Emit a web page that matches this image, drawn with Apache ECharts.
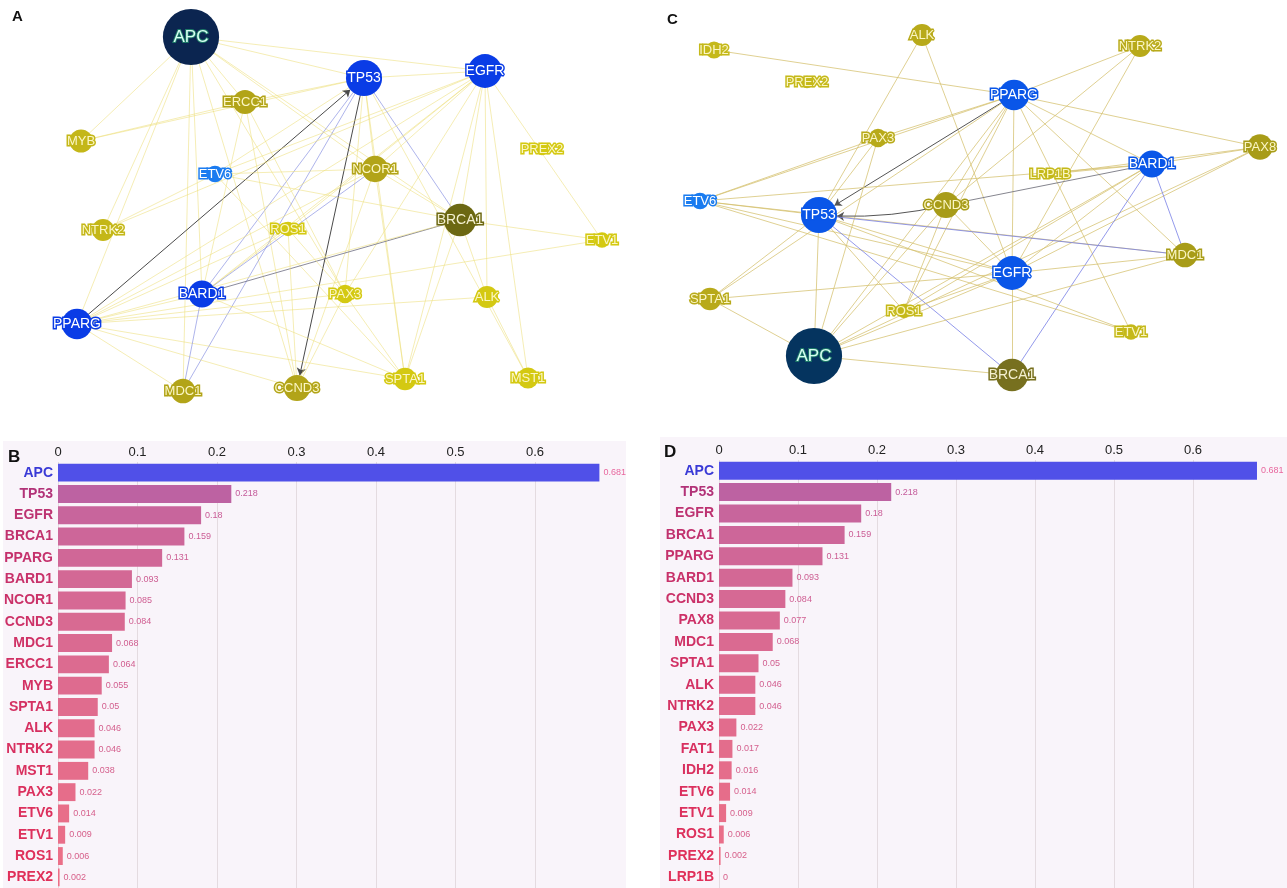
<!DOCTYPE html>
<html>
<head>
<meta charset="utf-8">
<script src="https://cdn.jsdelivr.net/npm/echarts@6/dist/echarts.min.js"></script>
<style>
  html, body { margin: 0; padding: 0; background: #ffffff; }
  #chart { width: 1287px; height: 888px; }
</style>
</head>
<body>
<div id="chart"></div>
<script>
// ---- Betweenness centrality rankings ----
const genesB = ['APC','TP53','EGFR','BRCA1','PPARG','BARD1','NCOR1','CCND3','MDC1','ERCC1',
                'MYB','SPTA1','ALK','NTRK2','MST1','PAX3','ETV6','ETV1','ROS1','PREX2'];
const scoresB = [0.681,0.218,0.18,0.159,0.131,0.093,0.085,0.084,0.068,0.064,
                 0.055,0.05,0.046,0.046,0.038,0.022,0.014,0.009,0.006,0.002];

const genesD = ['APC','TP53','EGFR','BRCA1','PPARG','BARD1','CCND3','PAX8','MDC1','SPTA1',
                'ALK','NTRK2','PAX3','FAT1','IDH2','ETV6','ETV1','ROS1','PREX2','LRP1B'];
const scoresD = [0.681,0.218,0.18,0.159,0.131,0.093,0.084,0.077,0.068,0.05,
                 0.046,0.046,0.022,0.017,0.016,0.014,0.009,0.006,0.002,0];

const axisTicks = [0, 0.1, 0.2, 0.3, 0.4, 0.5, 0.6];

// ---- Network A: nodes (name, colour group) ----
const nodesA = [
  ['APC','hub'],['TP53','blue'],['EGFR','blue'],['ERCC1','olive'],['MYB','khaki'],
  ['ETV6','sky'],['NCOR1','olive'],['PREX2','yellow'],['NTRK2','khaki'],['ROS1','yellow'],
  ['BRCA1','dark'],['ETV1','yellow'],['BARD1','blue'],['PAX3','yellow'],['ALK','yellow'],
  ['PPARG','blue'],['MDC1','olive'],['CCND3','olive'],['SPTA1','yellow'],['MST1','yellow']
];
// node placement inside panel A
const layoutA = {
  APC:[191,37], TP53:[364,78], EGFR:[485,71], ERCC1:[245,102], MYB:[81,141],
  ETV6:[215,174], NCOR1:[375,169], PREX2:[542,149], NTRK2:[103,230], ROS1:[288,229],
  BRCA1:[460,220], ETV1:[602,240], BARD1:[202,294], PAX3:[345,294], ALK:[487,297],
  PPARG:[77,324], MDC1:[183,391], CCND3:[297,388], SPTA1:[405,379], MST1:[528,378]
};
// interactions (source, target, kind)
const linksA = [
  ['APC','MYB'],['APC','NTRK2'],['APC','PPARG'],['APC','MDC1'],['APC','BARD1'],['APC','ERCC1'],
  ['APC','TP53'],['APC','EGFR'],['APC','NCOR1'],['APC','CCND3'],['APC','PAX3'],['APC','BRCA1'],
  ['TP53','EGFR'],['TP53','ERCC1'],['TP53','MYB'],['TP53','ETV6'],['TP53','NCOR1'],
  ['TP53','BRCA1','blue'],['TP53','BARD1','blue'],['PPARG','TP53','arrow'],['TP53','CCND3','arrow'],
  ['TP53','PAX3'],['TP53','MDC1','blue'],['TP53','SPTA1'],['TP53','MST1'],
  ['EGFR','ETV6'],['EGFR','NCOR1'],['EGFR','BRCA1'],['EGFR','ALK'],['EGFR','MST1'],['EGFR','ETV1'],
  ['EGFR','PPARG'],['EGFR','BARD1'],['EGFR','ROS1'],['EGFR','SPTA1'],['EGFR','PAX3'],['EGFR','NTRK2'],
  ['ERCC1','MYB'],['ERCC1','CCND3'],['ERCC1','PAX3'],['ERCC1','BARD1'],
  ['ETV6','NCOR1'],['ETV6','BRCA1'],['ETV6','SPTA1'],['ETV6','NTRK2'],
  ['NCOR1','BARD1','blue'],['NCOR1','PPARG'],['NCOR1','BRCA1'],['NCOR1','SPTA1'],['NCOR1','CCND3'],
  ['BRCA1','BARD1','grey'],['BRCA1','ETV1'],['BRCA1','ALK'],['BRCA1','SPTA1'],['BRCA1','PPARG'],
  ['PPARG','BARD1'],['PPARG','ROS1'],['PPARG','PAX3'],['PPARG','ETV1'],['PPARG','MDC1'],
  ['PPARG','CCND3'],['PPARG','SPTA1'],['PPARG','ALK'],
  ['BARD1','MDC1','blue'],['BARD1','ROS1'],['BARD1','SPTA1'],
  ['PAX3','CCND3'],['PAX3','SPTA1'],['ROS1','CCND3'],['ALK','MST1'],['ROS1','PAX3']
];

// ---- Network C ----
const nodesC = [
  ['ALK','khaki'],['IDH2','yellow'],['NTRK2','khaki'],['PREX2','yellow'],['PPARG','blue'],
  ['PAX3','khaki'],['PAX8','olive'],['BARD1','blue'],['LRP1B','yellow'],['ETV6','sky'],
  ['CCND3','olive'],['TP53','blue'],['MDC1','olive'],['EGFR','blue'],['SPTA1','khaki'],
  ['ROS1','yellow'],['ETV1','yellow'],['APC','hub'],['BRCA1','dark']
];
const layoutC = {
  ALK:[922,35], IDH2:[714,50], NTRK2:[1140,46], PREX2:[807,82], PPARG:[1014,95],
  PAX3:[878,138], PAX8:[1260,147], BARD1:[1152,164], LRP1B:[1050,174], ETV6:[700,201],
  CCND3:[946,205], TP53:[819,215], MDC1:[1185,255], EGFR:[1012,273], SPTA1:[710,299],
  ROS1:[904,311], ETV1:[1131,332], APC:[814,356], BRCA1:[1012,375]
};
const linksC = [
  ['IDH2','PPARG'],['ALK','TP53'],['ALK','EGFR'],['NTRK2','PPARG'],['NTRK2','CCND3'],['NTRK2','EGFR'],
  ['PPARG','PAX3'],['PPARG','ETV6'],['PPARG','TP53','arrow'],['PPARG','EGFR'],['PPARG','PAX8'],
  ['PPARG','MDC1'],['PPARG','ETV1'],['PPARG','APC'],['PPARG','ROS1'],['PPARG','SPTA1'],
  ['PPARG','BARD1'],['PPARG','CCND3'],
  ['PAX3','ETV6'],['PAX3','TP53'],['PAX3','APC'],
  ['PAX8','BARD1'],['PAX8','LRP1B'],['PAX8','EGFR'],['PAX8','APC'],
  ['BARD1','LRP1B'],['BARD1','CCND3','grey'],['BARD1','MDC1','blue'],['BARD1','BRCA1','blue'],
  ['BARD1','EGFR'],['BARD1','APC'],['BARD1','ETV6'],['BARD1','ROS1'],
  ['ETV6','TP53'],['ETV6','EGFR'],['ETV6','MDC1'],['ETV6','ETV1'],
  ['CCND3','TP53','arrow'],['CCND3','APC'],['CCND3','ROS1'],['CCND3','EGFR'],
  ['TP53','MDC1','blue'],['TP53','BRCA1','blue'],['TP53','EGFR'],['TP53','SPTA1'],['TP53','APC'],
  ['TP53','ETV1'],['TP53','ROS1'],
  ['MDC1','EGFR'],['MDC1','APC'],
  ['EGFR','SPTA1'],['EGFR','BRCA1'],['EGFR','APC'],['EGFR','ROS1'],
  ['SPTA1','APC'],['APC','BRCA1']
];

// ---- styling ----
const FONT = 'Liberation Sans, Arial, sans-serif';

const paletteA = {
  hub:'#0b2550', blue:'#0a3ce6', sky:'#1c7cf0', dark:'#6c6812',
  olive:'#b2a418', khaki:'#c4b718', yellow:'#d4c912'
};
const paletteC = {
  hub:'#05345f', blue:'#0a56e8', sky:'#1a7cf0', dark:'#77701f',
  olive:'#a89c18', khaki:'#b8aa1a', yellow:'#c5b91a'
};
const edgeStyles = {
  plain: { A:'rgba(236,222,120,0.55)', C:'rgba(212,192,110,0.75)' },
  blue:  { A:'rgba(130,140,225,0.65)', C:'rgba(120,128,230,0.8)' },
  grey:  { A:'rgba(110,110,130,0.8)',  C:'rgba(120,120,130,0.9)' },
  arrow: { A:'#4a4a4a', C:'#555555' }
};

function sizeFor(v) { return 10 + 56 * Math.sqrt(v); }

function buildGraph(nodes, layout, links, genes, scores, palette, key) {
  const xs = Object.values(layout).map(p => p[0]);
  const ys = Object.values(layout).map(p => p[1]);
  const minX = Math.min(...xs), maxX = Math.max(...xs);
  const minY = Math.min(...ys), maxY = Math.max(...ys);
  const data = nodes.map(([name, group]) => {
    const v = scores[genes.indexOf(name)];
    const s = sizeFor(v);
    const col = palette[group];
    const light = (group === 'hub' || group === 'blue' || group === 'sky');
    return {
      name, x: layout[name][0], y: layout[name][1],
      symbolSize: s,
      itemStyle: { color: col },
      label: {
        show: true, position: 'inside',
        fontFamily: FONT,
        fontSize: group === 'hub' ? 17 : (group === 'blue' || group === 'dark' ? 14 : 13),
        color: group === 'hub' ? '#d8fff2' : (light ? '#ffffff' : (group === 'dark' ? '#f4f0d0' : '#fbf6c4')),
        textBorderColor: group === 'hub' ? '#1d7a68' : col,
        textBorderWidth: group === 'hub' ? 2 : 3
      }
    };
  });
  const edges = links.map(([s, t, kind]) => {
    const k = kind || 'plain';
    const e = {
      source: s, target: t,
      lineStyle: { color: edgeStyles[k][key], width: 1, curveness: 0 }
    };
    if (k === 'arrow') {
      e.symbol = ['none', 'arrow'];
      e.symbolSize = [0, 7];
      if (s === 'CCND3') e.lineStyle.curveness = 0.08;
    }
    return e;
  });
  return {
    type: 'graph', layout: 'none', roam: false, silent: true,
    left: minX, top: minY, width: maxX - minX, height: maxY - minY,
    edgeSymbol: ['none', 'none'],
    data, links: edges,
    lineStyle: { opacity: 1 },
    emphasis: { disabled: true }
  };
}

function mix(a, b, t) {
  const pa = [1,3,5].map(i => parseInt(a.substr(i,2),16));
  const pb = [1,3,5].map(i => parseInt(b.substr(i,2),16));
  return 'rgb(' + pa.map((v,i) => Math.round(v + (pb[i]-v)*t)).join(',') + ')';
}
function rankT(i, n) { return Math.sqrt((i - 1) / (n - 2)); }
function barColor(i, n) { return i === 0 ? '#5050e8' : mix('#bd62a2', '#ec6f87', rankT(i, n)); }
function nameColor(i, n) { return i === 0 ? '#3a3ad6' : mix('#b23278', '#e0305a', rankT(i, n)); }
function valColor(i, n) { return i === 0 ? '#e8679e' : mix('#c45a9a', '#d8608a', rankT(i, n)); }

function buildBars(genes, scores, gridIndex) {
  const n = genes.length;
  return {
    type: 'bar', xAxisIndex: gridIndex, yAxisIndex: gridIndex,
    barCategoryGap: '16%', silent: true,
    data: scores.map((v, i) => ({
      value: v,
      itemStyle: { color: barColor(i, n) },
      label: { color: valColor(i, n) }
    })),
    label: {
      show: true, position: 'right', distance: 4,
      fontFamily: FONT, fontSize: 9,
      formatter: p => String(p.value)
    }
  };
}

function valueAxis(gridIndex) {
  return {
    type: 'value', gridIndex, position: 'top', min: 0, max: 0.7, interval: 0.1,
    axisLine: { show: false }, axisTick: { show: false },
    axisLabel: {
      margin: 3, fontFamily: FONT, fontSize: 13, color: '#222',
      showMaxLabel: false,
      formatter: v => axisTicks.indexOf(Math.round(v * 10) / 10) >= 0 ? String(Math.round(v * 10) / 10) : ''
    },
    splitLine: { show: true, showMaxLine: false, lineStyle: { color: '#e4dbe0', width: 1 } }
  };
}
function categoryAxis(gridIndex, genes) {
  const n = genes.length;
  return {
    type: 'category', gridIndex, data: genes, inverse: true,
    axisLine: { show: false }, axisTick: { show: false },
    axisLabel: {
      margin: 5, fontFamily: FONT, fontSize: 14, fontWeight: 'bold',
      color: (val, idx) => nameColor(idx, n)
    }
  };
}

const chart = echarts.init(document.getElementById('chart'), null, { renderer: 'canvas' });
chart.setOption({
  backgroundColor: '#ffffff',
  animation: false,
  graphic: [
    { type: 'rect', z: -10, shape: { x: 3, y: 441, width: 623, height: 447 }, style: { fill: '#f9f4fa' } },
    { type: 'rect', z: -10, shape: { x: 660, y: 437, width: 627, height: 451 }, style: { fill: '#f9f4fa' } },
    { type: 'text', left: 12, top: 9, style: { text: 'A', font: 'bold 15px ' + FONT, fill: '#111' } },
    { type: 'text', left: 667, top: 12, style: { text: 'C', font: 'bold 15px ' + FONT, fill: '#111' } },
    { type: 'text', left: 8, top: 449, z: 10, style: { text: 'B', font: 'bold 17px ' + FONT, fill: '#111' } },
    { type: 'text', left: 664, top: 444, z: 10, style: { text: 'D', font: 'bold 17px ' + FONT, fill: '#111' } }
  ],
  grid: [
    { left: 58, top: 462, width: 556.5, height: 430 },
    { left: 719, top: 460, width: 553, height: 430 }
  ],
  xAxis: [valueAxis(0), valueAxis(1)],
  yAxis: [categoryAxis(0, genesB), categoryAxis(1, genesD)],
  series: [
    buildGraph(nodesA, layoutA, linksA, genesB, scoresB, paletteA, 'A'),
    buildGraph(nodesC, layoutC, linksC, genesD, scoresD, paletteC, 'C'),
    buildBars(genesB, scoresB, 0),
    buildBars(genesD, scoresD, 1)
  ]
});
</script>
</body>
</html>
